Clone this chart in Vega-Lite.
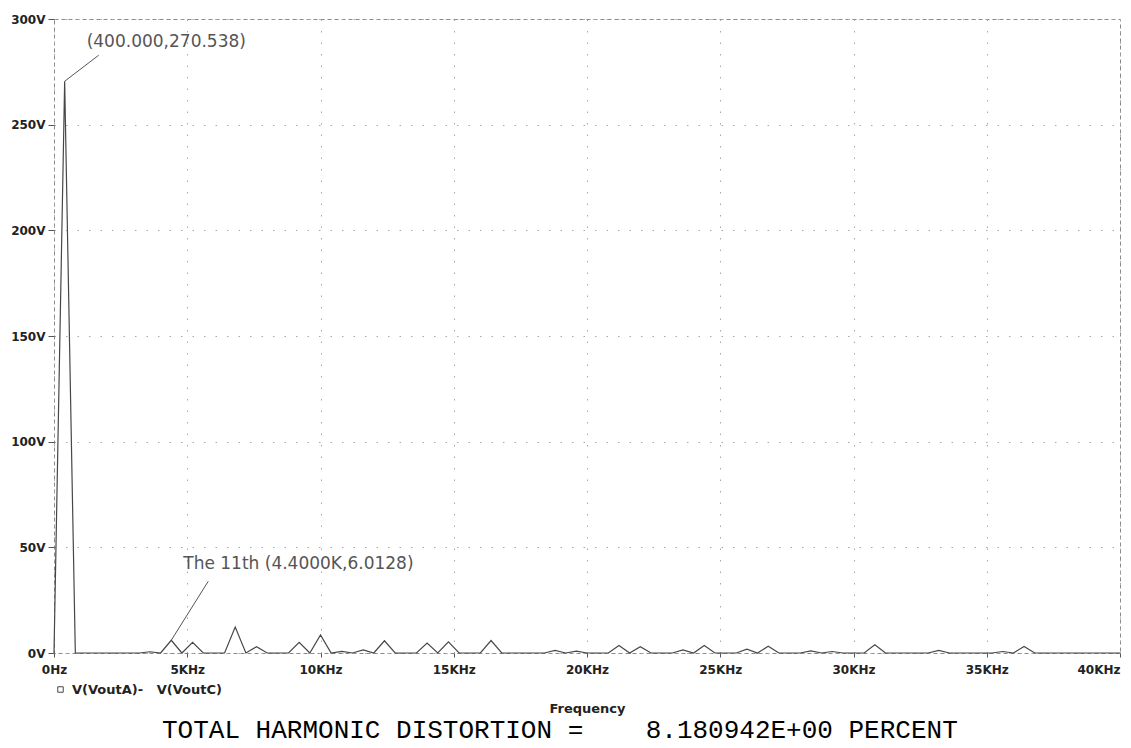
{
  "$schema": "https://vega.github.io/schema/vega-lite/v6.json",
  "width": 1066,
  "height": 634,
  "autosize": "none",
  "padding": {"left": 54, "top": 19, "right": 11, "bottom": 95},
  "background": "white",
  "title": {
    "text": "TOTAL HARMONIC DISTORTION =\u00a0\u00a0\u00a0\u00a08.180942E+00 PERCENT",
    "orient": "bottom",
    "anchor": "start",
    "frame": "group",
    "dx": 108,
    "offset": 2,
    "font": "Liberation Mono",
    "fontSize": 26,
    "fontWeight": "normal",
    "color": "#000000"
  },
  "config": {
    "view": {"stroke": "#8a8a8a", "strokeDash": [4, 3], "strokeWidth": 1},
    "axis": {
      "domain": false,
      "grid": true,
      "gridColor": "#a8a8a8",
      "gridDash": [1.5, 10],
      "gridWidth": 1,
      "tickColor": "#555555",
      "labelFont": "DejaVu Sans",
      "labelFontWeight": "bold",
      "labelFontSize": 12,
      "labelColor": "#222222",
      "titleFont": "DejaVu Sans",
      "titleFontWeight": "bold",
      "titleFontSize": 13,
      "titleColor": "#222222"
    }
  },
  "datasets": {
    "spectrum": [
      {"freq": 0, "volts": 0},
      {"freq": 400, "volts": 270.538},
      {"freq": 800, "volts": 0},
      {"freq": 1200, "volts": 0},
      {"freq": 1600, "volts": 0},
      {"freq": 2000, "volts": 0},
      {"freq": 2400, "volts": 0},
      {"freq": 2800, "volts": 0},
      {"freq": 3200, "volts": 0},
      {"freq": 3600, "volts": 0.6},
      {"freq": 4000, "volts": 0},
      {"freq": 4400, "volts": 6.0128},
      {"freq": 4800, "volts": 0},
      {"freq": 5200, "volts": 5.0},
      {"freq": 5600, "volts": 0},
      {"freq": 6000, "volts": 0},
      {"freq": 6400, "volts": 0},
      {"freq": 6800, "volts": 12.3},
      {"freq": 7200, "volts": 0},
      {"freq": 7600, "volts": 3.0},
      {"freq": 8000, "volts": 0},
      {"freq": 8400, "volts": 0},
      {"freq": 8800, "volts": 0},
      {"freq": 9200, "volts": 5.0},
      {"freq": 9600, "volts": 0},
      {"freq": 10000, "volts": 8.5},
      {"freq": 10400, "volts": 0},
      {"freq": 10800, "volts": 0.8},
      {"freq": 11200, "volts": 0},
      {"freq": 11600, "volts": 1.5},
      {"freq": 12000, "volts": 0},
      {"freq": 12400, "volts": 5.8},
      {"freq": 12800, "volts": 0},
      {"freq": 13200, "volts": 0},
      {"freq": 13600, "volts": 0},
      {"freq": 14000, "volts": 4.7},
      {"freq": 14400, "volts": 0},
      {"freq": 14800, "volts": 5.3},
      {"freq": 15200, "volts": 0},
      {"freq": 15600, "volts": 0},
      {"freq": 16000, "volts": 0},
      {"freq": 16400, "volts": 5.9},
      {"freq": 16800, "volts": 0},
      {"freq": 17200, "volts": 0},
      {"freq": 17600, "volts": 0},
      {"freq": 18000, "volts": 0},
      {"freq": 18400, "volts": 0},
      {"freq": 18800, "volts": 1.2},
      {"freq": 19200, "volts": 0},
      {"freq": 19600, "volts": 0.9},
      {"freq": 20000, "volts": 0},
      {"freq": 20400, "volts": 0},
      {"freq": 20800, "volts": 0},
      {"freq": 21200, "volts": 3.5},
      {"freq": 21600, "volts": 0},
      {"freq": 22000, "volts": 3.0},
      {"freq": 22400, "volts": 0},
      {"freq": 22800, "volts": 0},
      {"freq": 23200, "volts": 0},
      {"freq": 23600, "volts": 1.5},
      {"freq": 24000, "volts": 0},
      {"freq": 24400, "volts": 3.6},
      {"freq": 24800, "volts": 0},
      {"freq": 25200, "volts": 0},
      {"freq": 25600, "volts": 0},
      {"freq": 26000, "volts": 1.8},
      {"freq": 26400, "volts": 0},
      {"freq": 26800, "volts": 3.2},
      {"freq": 27200, "volts": 0},
      {"freq": 27600, "volts": 0},
      {"freq": 28000, "volts": 0},
      {"freq": 28400, "volts": 1.0},
      {"freq": 28800, "volts": 0},
      {"freq": 29200, "volts": 0.7},
      {"freq": 29600, "volts": 0},
      {"freq": 30000, "volts": 0},
      {"freq": 30400, "volts": 0},
      {"freq": 30800, "volts": 3.9},
      {"freq": 31200, "volts": 0},
      {"freq": 31600, "volts": 0},
      {"freq": 32000, "volts": 0},
      {"freq": 32400, "volts": 0},
      {"freq": 32800, "volts": 0},
      {"freq": 33200, "volts": 1.2},
      {"freq": 33600, "volts": 0},
      {"freq": 34000, "volts": 0},
      {"freq": 34400, "volts": 0},
      {"freq": 34800, "volts": 0},
      {"freq": 35200, "volts": 0},
      {"freq": 35600, "volts": 0.7},
      {"freq": 36000, "volts": 0},
      {"freq": 36400, "volts": 3.1},
      {"freq": 36800, "volts": 0},
      {"freq": 37200, "volts": 0},
      {"freq": 37600, "volts": 0},
      {"freq": 38000, "volts": 0},
      {"freq": 38400, "volts": 0},
      {"freq": 38800, "volts": 0},
      {"freq": 39200, "volts": 0},
      {"freq": 39600, "volts": 0},
      {"freq": 40000, "volts": 0}
    ],
    "markers": [
      {"freq": 400, "volts": 270.538, "label": "(400.000,270.538)"},
      {"freq": 4400, "volts": 6.0128, "label": "The 11th (4.4000K,6.0128)"}
    ]
  },
  "encoding": {
    "x": {
      "field": "freq",
      "type": "quantitative",
      "scale": {"domain": [0, 40000], "nice": false, "zero": false},
      "axis": {
        "values": [0, 5000, 10000, 15000, 20000, 25000, 30000, 35000, 40000],
        "labelExpr": "datum.value == 0 ? '0Hz' : (datum.value / 1000) + 'KHz'",
        "labelAlign": {"expr": "datum.value == 40000 ? 'right' : 'center'"},
        "labelFlush": false,
        "tickSize": 4,
        "labelPadding": 7,
        "title": "Frequency",
        "titlePadding": 27
      }
    },
    "y": {
      "field": "volts",
      "type": "quantitative",
      "scale": {"domain": [0, 300], "nice": false},
      "axis": {
        "values": [0, 50, 100, 150, 200, 250, 300],
        "labelExpr": "datum.value + 'V'",
        "labelFlush": false,
        "tickSize": 6,
        "labelPadding": 3,
        "title": null
      }
    }
  },
  "layer": [
    {
      "data": {"name": "spectrum"},
      "mark": {"type": "line", "strokeWidth": 1.2, "interpolate": "linear"},
      "encoding": {
        "color": {
          "datum": "V(VoutA)-\u00a0\u00a0\u00a0V(VoutC)",
          "type": "nominal",
          "scale": {"range": ["#474747"]},
          "legend": {
            "orient": "none",
            "legendX": 0,
            "legendY": 664,
            "title": null,
            "padding": 0,
            "symbolType": "square",
            "symbolSize": 30,
            "symbolFillColor": "white",
            "symbolStrokeColor": "#555555",
            "symbolStrokeWidth": 1,
            "labelFont": "DejaVu Sans",
            "labelFontWeight": "bold",
            "labelFontSize": 13,
            "labelColor": "#222222",
            "labelOffset": 5
          }
        }
      }
    },
    {
      "data": {"name": "markers"},
      "transform": [{"filter": "datum.freq == 400"}],
      "mark": {"type": "rule", "color": "#555555", "strokeWidth": 1, "x2Offset": 34, "y2Offset": -26},
      "encoding": {
        "x2": {"field": "freq"},
        "y2": {"field": "volts"}
      }
    },
    {
      "data": {"name": "markers"},
      "transform": [{"filter": "datum.freq == 400"}],
      "mark": {"type": "text", "align": "left", "baseline": "middle", "dx": 22, "dy": -39, "font": "DejaVu Sans", "fontSize": 17, "color": "#555555"},
      "encoding": {"text": {"field": "label"}}
    },
    {
      "data": {"name": "markers"},
      "transform": [{"filter": "datum.freq == 4400"}],
      "mark": {"type": "rule", "color": "#555555", "strokeWidth": 1, "x2Offset": 37, "y2Offset": -59},
      "encoding": {
        "x2": {"field": "freq"},
        "y2": {"field": "volts"}
      }
    },
    {
      "data": {"name": "markers"},
      "transform": [{"filter": "datum.freq == 4400"}],
      "mark": {"type": "text", "align": "left", "baseline": "middle", "dx": 12, "dy": -76, "font": "DejaVu Sans", "fontSize": 17, "color": "#555555"},
      "encoding": {"text": {"field": "label"}}
    }
  ]
}
